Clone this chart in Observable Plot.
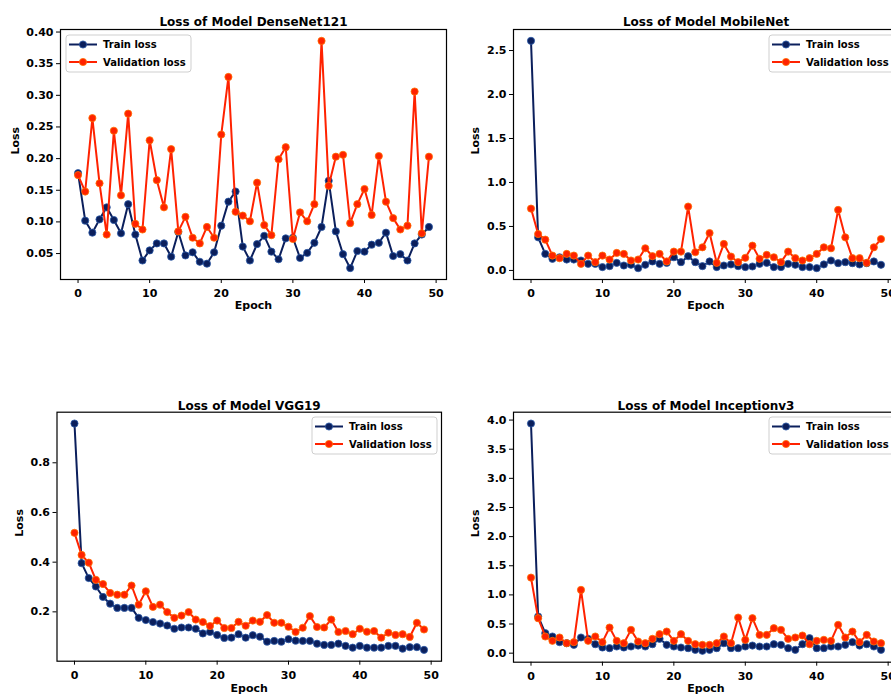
<!DOCTYPE html>
<html><head><meta charset="utf-8">
<script src="https://cdn.jsdelivr.net/npm/d3@7"></script>
<script src="https://cdn.jsdelivr.net/npm/@observablehq/plot@0.6"></script>
<style>
body{margin:0;background:#fff;}
#root{position:relative;width:891px;height:700px;overflow:hidden;background:#fff;font-family:"DejaVu Sans",sans-serif;}
.panel{position:absolute;}
.legend{position:absolute;}
</style></head><body><div id="root"></div><script>
const epochs = d3.range(50);
const xTicks = [0,10,20,30,40,50];

const densenetTrain = [0.177,0.102,0.083,0.104,0.123,0.103,0.082,0.128,0.080,0.039,
  0.055,0.066,0.066,0.045,0.084,0.047,0.052,0.037,0.034,0.052,
  0.094,0.132,0.148,0.061,0.039,0.065,0.078,0.053,0.041,0.074,
  0.075,0.043,0.051,0.067,0.092,0.165,0.085,0.049,0.027,0.054,
  0.053,0.064,0.067,0.083,0.046,0.049,0.039,0.066,0.080,0.092];
const densenetVal = [0.174,0.148,0.264,0.161,0.080,0.244,0.142,0.271,0.097,0.088,
  0.229,0.166,0.123,0.215,0.085,0.108,0.075,0.066,0.092,0.075,
  0.238,0.329,0.116,0.110,0.101,0.162,0.095,0.079,0.199,0.218,
  0.073,0.115,0.101,0.128,0.386,0.157,0.203,0.206,0.098,0.128,
  0.152,0.111,0.204,0.132,0.106,0.088,0.094,0.306,0.082,0.203];

const mobilenetTrain = [2.61,0.376,0.188,0.132,0.150,0.124,0.124,0.113,0.075,0.075,
  0.038,0.049,0.086,0.056,0.064,0.026,0.064,0.102,0.075,0.086,
  0.150,0.094,0.162,0.094,0.049,0.102,0.038,0.056,0.068,0.049,
  0.038,0.045,0.075,0.086,0.038,0.038,0.075,0.064,0.038,0.038,
  0.026,0.068,0.113,0.083,0.094,0.083,0.068,0.083,0.102,0.064];
const mobilenetVal = [0.703,0.414,0.350,0.169,0.139,0.188,0.169,0.075,0.169,0.094,
  0.169,0.124,0.199,0.188,0.113,0.124,0.252,0.162,0.188,0.102,
  0.214,0.214,0.726,0.207,0.263,0.425,0.086,0.301,0.158,0.094,
  0.143,0.282,0.132,0.177,0.150,0.094,0.214,0.139,0.113,0.139,
  0.188,0.263,0.252,0.688,0.376,0.139,0.139,0.086,0.263,0.357];

const vgg19Train = [0.958,0.396,0.336,0.302,0.260,0.233,0.216,0.216,0.216,0.176,
  0.167,0.159,0.153,0.145,0.132,0.137,0.137,0.132,0.113,0.119,
  0.107,0.095,0.096,0.110,0.096,0.106,0.100,0.080,0.083,0.080,
  0.090,0.084,0.083,0.083,0.072,0.067,0.067,0.072,0.063,0.056,
  0.063,0.056,0.056,0.056,0.063,0.063,0.052,0.058,0.058,0.047];
const vgg19Val = [0.518,0.429,0.398,0.329,0.312,0.276,0.269,0.269,0.306,0.229,
  0.283,0.220,0.229,0.199,0.176,0.185,0.199,0.169,0.159,0.143,
  0.165,0.135,0.135,0.160,0.144,0.165,0.160,0.187,0.156,0.156,
  0.140,0.119,0.136,0.183,0.139,0.137,0.169,0.119,0.123,0.110,
  0.132,0.120,0.123,0.096,0.116,0.107,0.110,0.099,0.156,0.129];

const inceptionTrain = [3.94,0.629,0.343,0.286,0.189,0.171,0.143,0.269,0.246,0.154,
  0.097,0.086,0.114,0.097,0.114,0.131,0.114,0.154,0.246,0.143,
  0.114,0.097,0.086,0.057,0.040,0.057,0.086,0.171,0.086,0.086,
  0.114,0.131,0.114,0.114,0.154,0.143,0.086,0.057,0.154,0.257,
  0.086,0.086,0.114,0.114,0.143,0.189,0.131,0.154,0.114,0.057];
const inceptionVal = [1.297,0.600,0.286,0.211,0.269,0.171,0.189,1.086,0.211,0.286,
  0.189,0.440,0.211,0.171,0.400,0.200,0.171,0.246,0.326,0.371,
  0.211,0.326,0.211,0.154,0.143,0.143,0.171,0.286,0.171,0.611,
  0.229,0.600,0.314,0.314,0.429,0.400,0.246,0.269,0.303,0.154,
  0.211,0.229,0.211,0.486,0.269,0.371,0.189,0.314,0.200,0.171];

const seriesNames = ["Train loss","Validation loss"];
const trainColor = "#0b1f5c", trainEdge = "#2c5aa8";
const valColor = "#ff2200", valEdge = "#ff7000";

const root = document.getElementById("root");

function panel(o) {
  const rows = epochs.map((e,i)=>({epoch:e, train:o.train[i], val:o.val[i]}));
  const chart = Plot.plot({
    width:o.width, height:o.height,
    marginLeft:o.mL, marginRight:o.mR, marginTop:o.mT, marginBottom:o.mB,
    style:{fontFamily:"DejaVu Sans", fontSize:"11px", fontWeight:"bold", color:"#000",
      background:"transparent", overflow:"visible", maxWidth:"none"},
    x:{domain:[-2.45,51.45], ticks:xTicks, tickFormat:d=>String(d), tickSize:4, tickPadding:6, label:null},
    y:{domain:o.yDomain, ticks:o.yTicks, tickFormat:d3.format(o.yFmt), tickSize:4, tickPadding:3, label:null},
    marks:[
      Plot.frame({stroke:"#000", strokeWidth:1.2}),
      Plot.line(rows,{x:"epoch", y:"train", stroke:trainColor, strokeWidth:2}),
      Plot.dot(rows,{x:"epoch", y:"train", r:3.6, fill:trainColor, stroke:trainEdge, strokeWidth:0.8}),
      Plot.line(rows,{x:"epoch", y:"val", stroke:valColor, strokeWidth:2}),
      Plot.dot(rows,{x:"epoch", y:"val", r:3.6, fill:valColor, stroke:valEdge, strokeWidth:0.8}),
      Plot.text([o.title],{text:d=>d, frameAnchor:"top", dy:o.titleDy, fontSize:12, fontWeight:"bold"}),
      Plot.text(["Epoch"],{text:d=>d, frameAnchor:"bottom", dy:o.epochDy, fontSize:11, fontWeight:"bold"}),
      Plot.text(["Loss"],{text:d=>d, frameAnchor:"left", dx:o.lossDx, rotate:-90, fontSize:11, fontWeight:"bold"})
    ]
  });
  const div = document.createElement("div");
  div.className = "panel";
  div.style.left = o.left + "px";
  div.style.top = o.top + "px";
  div.style.width = o.width + "px";
  div.style.height = o.height + "px";
  div.appendChild(chart);
  root.appendChild(div);

  // legend
  const w = 125, h = 37;
  const svg = d3.create("svg").attr("width", w + 2).attr("height", h + 2)
    .style("position","absolute").style("left",(o.legX-1)+"px").style("top",(o.legY-1)+"px")
    .style("overflow","visible");
  svg.append("rect").attr("x",1).attr("y",1).attr("width",w).attr("height",h).attr("rx",3)
    .attr("fill","#fff").attr("fill-opacity",0.85).attr("stroke","#cfcfcf").attr("stroke-width",1);
  const items = [{name:seriesNames[0], c:trainColor, e:trainEdge},{name:seriesNames[1], c:valColor, e:valEdge}];
  items.forEach((it,i)=>{
    const yy = 1 + 9.5 + i*17.5;
    svg.append("line").attr("x1",4).attr("x2",32).attr("y1",yy).attr("y2",yy).attr("stroke",it.c).attr("stroke-width",2);
    svg.append("circle").attr("cx",18).attr("cy",yy).attr("r",3.6).attr("fill",it.c).attr("stroke",it.e).attr("stroke-width",0.8);
    svg.append("text").attr("x",38).attr("y",yy).attr("dy","0.35em").text(it.name)
      .attr("font-family","DejaVu Sans").attr("font-size",10).attr("font-weight","bold").attr("fill","#000");
  });
  root.appendChild(svg.node());
}

panel({title:"Loss of Model DenseNet121", train:densenetTrain, val:densenetVal,
  left:0, top:0, width:450, height:320, mL:60, mR:4, mT:29, mB:41,
  yDomain:[0.009,0.404], yTicks:[0.05,0.10,0.15,0.20,0.25,0.30,0.35,0.40], yFmt:".2f",
  titleDy:-12, epochDy:29, lossDx:-45, legX:65.7, legY:35});
panel({title:"Loss of Model MobileNet", train:mobilenetTrain, val:mobilenetVal,
  left:465, top:0, width:450, height:320, mL:48, mR:17, mT:29, mB:41,
  yDomain:[-0.103,2.739], yTicks:[0,0.5,1.0,1.5,2.0,2.5], yFmt:".1f",
  titleDy:-12, epochDy:29, lossDx:-38, legX:769, legY:35});
panel({title:"Loss of Model VGG19", train:vgg19Train, val:vgg19Val,
  left:0, top:380, width:450, height:320, mL:56.5, mR:9, mT:31.7, mB:39.3,
  yDomain:[0.0014,1.0036], yTicks:[0.2,0.4,0.6,0.8], yFmt:".1f",
  titleDy:-11, epochDy:31, lossDx:-38, legX:311.7, legY:416.7});
panel({title:"Loss of Model Inceptionv3", train:inceptionTrain, val:inceptionVal,
  left:465, top:380, width:450, height:320, mL:48, mR:17, mT:31.7, mB:38.3,
  yDomain:[-0.155,4.135], yTicks:[0,0.5,1.0,1.5,2.0,2.5,3.0,3.5,4.0], yFmt:".1f",
  titleDy:-11, epochDy:30, lossDx:-38, legX:769, legY:416.7});
</script></body></html>
